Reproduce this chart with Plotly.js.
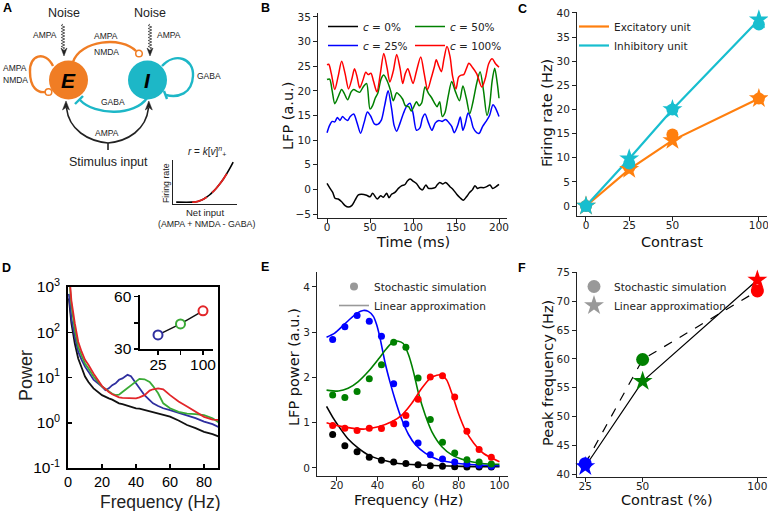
<!DOCTYPE html>
<html>
<head>
<meta charset="utf-8">
<script src="https://cdn.plot.ly/plotly-3.0.1.min.js"></script>
<style>
  body { margin: 0; background: white; }
  #fig { width: 768px; height: 511px; }
</style>
</head>
<body>
<div id="fig"></div>
<script>
// ---- panel B: LFP traces (time in ms, LFP in a.u.)
const lfpRedT = [0, 2, 5, 9, 13, 17, 21, 25, 29, 32, 35, 38, 42, 45, 48, 51, 54, 58, 62, 66, 70, 73, 77, 81, 85, 88, 91, 94, 97, 100, 104, 109, 113, 117, 121, 125, 127, 130, 133, 136, 139.5, 143, 146, 150, 153, 156, 159, 162, 165, 169, 174, 180, 184, 188, 192, 196, 200];
const lfpRed = [25.3, 25.4, 23.5, 20.3, 23.0, 26.0, 23.5, 20.4, 22.5, 24.5, 22.8, 20.6, 22.3, 23.8, 23.3, 23.6, 22.0, 19.8, 23.5, 27.6, 24.5, 21.8, 24.0, 27.4, 24.5, 21.5, 23.5, 24.5, 23.0, 21.5, 24.0, 26.9, 23.5, 20.3, 22.5, 25.0, 26.3, 25.0, 23.9, 26.5, 29.0, 27.0, 23.0, 20.4, 22.8, 23.2, 23.3, 24.5, 25.6, 24.8, 23.5, 20.8, 22.5, 25.5, 26.5, 25.5, 24.8];
const lfpGreenT = [0, 3, 6, 9, 13, 17, 20, 24, 28, 31, 35, 38, 42, 46, 50, 53, 56, 59, 63, 66, 70, 74, 77, 81, 84, 88, 91, 95, 98, 101, 104, 107, 110, 114, 118, 122, 125, 128, 131, 134, 137, 141, 145, 149, 154, 158, 162, 166, 170, 174, 178, 182, 186, 189, 192, 195, 198, 200];
const lfpGreen = [22.3, 22.4, 20.0, 17.4, 18.8, 20.3, 19.5, 18.2, 19.8, 20.3, 19.9, 19.7, 20.8, 21.5, 16.3, 17.0, 18.5, 19.5, 22.5, 23.2, 22.0, 20.0, 18.0, 19.6, 19.2, 18.3, 17.0, 16.8, 15.9, 16.8, 17.8, 17.0, 17.5, 20.8, 19.5, 18.5, 17.5, 16.8, 17.8, 14.8, 15.5, 19.0, 21.9, 20.0, 18.0, 21.0, 18.5, 15.4, 18.0, 21.5, 23.9, 20.0, 15.0, 17.0, 22.0, 24.6, 21.5, 18.5];
const lfpBlueT = [0, 3, 6, 9, 12, 15, 18, 21, 24, 27, 31, 35, 39, 43, 47, 51, 55, 59, 63, 67, 71, 75, 78, 81, 85, 89, 93, 96.5, 100, 104, 108, 111, 114, 118, 122, 126, 130, 134, 138, 142, 145, 148, 152, 155, 158, 161, 164, 167, 170, 174, 177, 181, 185, 189, 193, 196, 200];
const lfpBlue = [11.5, 13.0, 13.8, 13.7, 14.6, 14.0, 14.8, 14.3, 14.0, 14.8, 15.3, 13.5, 11.4, 13.5, 15.7, 14.8, 13.3, 13.2, 14.0, 17.0, 20.0, 16.5, 13.0, 11.8, 13.5, 15.5, 17.0, 17.5, 15.5, 12.0, 12.5, 14.5, 15.3, 13.5, 12.0, 13.5, 14.0, 13.8, 14.2, 13.5, 12.8, 11.5, 13.0, 14.7, 12.0, 13.5, 15.5, 14.5, 12.5, 11.5, 11.4, 12.8, 13.8, 15.0, 17.2, 16.5, 14.8];
const lfpBlackT = [0, 3.5, 6.6, 9.3, 13, 17, 21, 24.8, 28.7, 32.6, 36.4, 40.3, 46, 50, 53, 58.5, 62.4, 65.5, 69.4, 72, 75, 79, 83, 87, 90.7, 93.4, 96.5, 100, 104, 108, 111, 115, 118, 121.7, 125.6, 128, 131, 134.5, 138, 143, 147, 150.8, 154.7, 158.5, 162, 166, 169, 172, 175, 178, 182, 185.7, 189.5, 192.6, 196.5, 200];
const lfpBlack = [1.2, 0.2, -0.6, -1.8, -1.95, -2.5, -3.3, -3.6, -3.3, -2.2, -1.1, -1.0, -1.2, -1.5, -0.8, -1.95, -1.3, -1.6, -0.8, -1.7, -1.0, -0.6, 0.2, 0.75, 1.0, 1.7, 2.1, 1.7, 1.2, 0.2, -0.1, 0.9, 0.2, 0.2, 0.35, 0.9, 1.4, 1.1, 1.4, 0.55, -0.1, -1.0, -1.7, -2.2, -1.55, -0.6, -0.1, 0.75, 0.2, 0.4, 0.35, 0.55, 0.9, 0.2, 0.55, 1.0];

// ---- panel C: firing rate vs contrast
const contrastC = [0, 25, 50, 100];
const excSim = [0, 8.0, 14.8, 22.3];
const excLin = [0, 7.6, 13.6, 22.3];
const inhSim = [0, 8.8, 20.0, 37.6];
const inhLin = [0, 9.8, 20.0, 38.6];

// ---- panel D: power spectra (log10 of power) and inset peak frequency
const specFreq = [0.5, 2, 4, 6, 8, 10, 12, 15, 20, 22, 24, 26, 28, 30, 32, 35, 37, 40, 42, 45, 48, 50, 53, 56, 60, 65, 70, 75, 80, 85, 89];
const specLogBlack = [2.75, 2.2, 1.75, 1.42, 1.22, 1.02, 0.9, 0.76, 0.61, 0.57, 0.54, 0.51, 0.47, 0.43, 0.41, 0.37, 0.35, 0.32, 0.31, 0.28, 0.24, 0.22, 0.19, 0.17, 0.135, 0.05, -0.05, -0.12, -0.2, -0.25, -0.31];
const specLogBlue = [2.85, 2.3, 1.9, 1.57, 1.39, 1.24, 1.13, 0.95, 0.8, 0.72, 0.76, 0.83, 0.87, 0.95, 0.98, 1.06, 1.03, 0.87, 0.76, 0.61, 0.5, 0.43, 0.37, 0.32, 0.28, 0.22, 0.17, 0.1, 0.025, -0.03, -0.1];
const specLogGreen = [3.3, 2.6, 2.05, 1.68, 1.48, 1.31, 1.2, 1.02, 0.8, 0.74, 0.69, 0.64, 0.61, 0.62, 0.68, 0.77, 0.83, 0.93, 0.97, 0.96, 0.9, 0.81, 0.65, 0.43, 0.32, 0.24, 0.2, 0.19, 0.17, 0.1, 0.0];
const specLogRed = [3.4, 2.7, 2.2, 1.79, 1.57, 1.39, 1.28, 1.09, 0.81, 0.74, 0.68, 0.63, 0.59, 0.56, 0.55, 0.54, 0.54, 0.54, 0.56, 0.61, 0.71, 0.74, 0.76, 0.74, 0.61, 0.47, 0.36, 0.24, 0.13, 0.07, 0.06];
const insetContrast = [25, 50, 100];
const insetPeak = [38.1, 44.4, 51.9];

// ---- panel E: LFP power spectra, simulation dots and linear approximation
const dotFreq = [18, 24, 30, 36, 42, 48, 54, 60, 66, 72, 78, 84, 90, 96];
const dotBlack = [0.74, 0.49, 0.36, 0.24, 0.17, 0.13, 0.10, 0.07, 0.05, 0.04, 0.03, 0.02, 0.02, 0.02];
const dotBlue = [2.84, 3.12, 3.37, 3.24, 2.91, 1.86, 0.97, 0.55, 0.29, 0.20, 0.13, 0.09, 0.06, 0.04];
const dotGreen = [1.61, 1.56, 1.69, 1.97, 2.28, 2.78, 2.67, 1.99, 1.07, 0.57, 0.33, 0.18, 0.13, 0.09];
const dotRed = [0.94, 0.88, 0.83, 0.88, 0.87, 0.98, 1.16, 1.52, 2.01, 2.04, 1.57, 0.81, 0.41, 0.24];
const linBlackF = [15, 18.3, 21.6, 25.6, 30.6, 35.5, 42.1, 50.3, 61.8, 74.9, 88, 100];
const linBlack = [1.36, 1.1, 0.88, 0.64, 0.44, 0.29, 0.18, 0.1, 0.066, 0.044, 0.03, 0.03];
const linBlueF = [15, 19, 22, 26, 30, 33, 35.5, 38, 39.6, 41.3, 43.8, 46.3, 48.7, 52, 55.3, 58.6, 63.5, 70, 78, 88, 100];
const linBlue = [2.89, 2.98, 3.1, 3.27, 3.42, 3.48, 3.46, 3.35, 3.17, 2.87, 2.32, 1.88, 1.51, 1.07, 0.74, 0.52, 0.33, 0.18, 0.11, 0.07, 0.05];
const linGreenF = [15, 20.8, 25.6, 30.6, 35.5, 40.4, 44.5, 47.8, 50.3, 52.7, 55.3, 57.7, 60.2, 63.5, 66.8, 71.7, 76.6, 83.2, 91.4, 100];
const linGreen = [1.72, 1.70, 1.76, 1.91, 2.13, 2.40, 2.64, 2.79, 2.8, 2.75, 2.5, 2.13, 1.65, 1.17, 0.8, 0.47, 0.29, 0.17, 0.1, 0.08];
const linRedF = [15, 20.8, 27.3, 33.9, 40.4, 47, 52, 56.9, 61.8, 65.9, 69.2, 71.7, 74.1, 76.6, 79.9, 83.2, 87.3, 92.2, 100];
const linRed = [1.0, 0.93, 0.88, 0.86, 0.91, 1.02, 1.17, 1.43, 1.76, 1.98, 2.05, 2.05, 1.94, 1.65, 1.2, 0.84, 0.55, 0.32, 0.14];

// ---- panel F: peak frequency vs contrast
const contrastF = [25, 50, 100];
const peakSim = [41.8, 59.9, 71.8];
const peakLin = [41.3, 56.1, 73.7];
const peakColors = ["blue", "green", "red"];

// ---- panel A inset: rectified power-law transfer curve
const netInput = [0.05, 0.3, 0.36, 0.42, 0.48, 0.53, 0.57, 0.61, 0.67, 0.73, 0.79, 0.84, 0.89, 0.94];
const firingRate = [0.045, 0.045, 0.053, 0.079, 0.12, 0.168, 0.215, 0.27, 0.364, 0.476, 0.604, 0.724, 0.856, 1.0];

const W = 768, H = 511;
const px = (x) => x / W;
const py = (y) => 1 - y / H;
function dom(l, r, t, b) {
  return { x: [px(l), px(r)], y: [py(b), py(t)] };
}
// pixel path -> paper path
function path(s) {
  return s.replace(/(-?[\d.]+),(-?[\d.]+)/g, (m, a, b) => px(+a).toFixed(5) + "," + py(+b).toFixed(5));
}
function wiggle(x, y0, y1) {
  let s = "M" + x + "," + y0;
  let k = 0;
  for (let y = y0 + 1.5; y < y1; y += 1.5) {
    s += " L" + (x + (k % 2 ? 1.8 : -1.8)) + "," + y;
    k++;
  }
  return s + " L" + x + "," + y1;
}

const mplFont = { family: "DejaVu Sans", size: 10.5, color: "#222" };
const arial = "Liberation Sans, Arial, sans-serif";
const ORANGE = "#f07d24";
const CYAN = "#1db7c7";
const TAB_OR = "#ff7f0e";
const TAB_CY = "#17becf";

function mplAxis(extra) {
  return Object.assign({
    showline: true, linecolor: "#222", linewidth: 1,
    ticks: "outside", ticklen: 4, tickwidth: 1, tickcolor: "#222",
    showgrid: false, zeroline: false, tickfont: mplFont, fixedrange: true,
    ticklabeloverflow: "allow",
  }, extra);
}

const dB = dom(318, 507, 13, 218);
const dC = dom(577, 767, 12, 216);
const dD = dom(68, 218, 287, 468);
const dDi = dom(140, 213, 295, 349);
const dE = dom(317, 508, 272, 476);
const dF = dom(577, 767, 272, 477);
const dA = dom(173, 237, 160, 204);

const traces = [];
// B
const bSets = [
  [lfpBlackT, lfpBlack, "black", "<i>c</i> = 0%", "legend"],
  [lfpBlueT, lfpBlue, "blue", "<i>c</i> = 25%", "legend"],
  [lfpGreenT, lfpGreen, "green", "<i>c</i> = 50%", "legend2"],
  [lfpRedT, lfpRed, "red", "<i>c</i> = 100%", "legend2"],
];
bSets.forEach(([t, v, c, n, lg]) => {
  traces.push({
    x: t, y: v, type: "scatter", mode: "lines", name: n, legend: lg,
    line: { color: c, width: 1.5, shape: "spline", smoothing: 0.8 },
    xaxis: "x", yaxis: "y",
  });
});
// C
traces.push({ x: contrastC, y: excLin, mode: "lines", name: "Excitatory unit", legend: "legend3",
  line: { color: TAB_OR, width: 2.2 }, xaxis: "x2", yaxis: "y2" });
traces.push({ x: contrastC, y: inhLin, mode: "lines", name: "Inhibitory unit", legend: "legend3",
  line: { color: TAB_CY, width: 2.2 }, xaxis: "x2", yaxis: "y2" });
[[excLin, TAB_OR, "star", 15], [excSim, TAB_OR, "circle", 12], [inhLin, TAB_CY, "star", 15], [inhSim, TAB_CY, "circle", 12]].forEach(([v, c, s, z]) => {
  traces.push({ x: contrastC, y: v, mode: "markers", showlegend: false, cliponaxis: false,
    marker: { color: c, symbol: s, size: z, line: { width: 0 } }, xaxis: "x2", yaxis: "y2" });
});
// D
[[specLogBlack, "#111"], [specLogBlue, "#2f2f9f"], [specLogGreen, "#3aaa36"], [specLogRed, "#e2262a"]].forEach(([v, c]) => {
  traces.push({ x: specFreq, y: v.map((l) => Math.pow(10, l)), mode: "lines", showlegend: false,
    line: { color: c, width: 1.8 }, xaxis: "x3", yaxis: "y3" });
});
traces.push({ x: insetContrast, y: insetPeak, mode: "lines+markers", showlegend: false, cliponaxis: false,
  line: { color: "#111", width: 1.5 },
  marker: { size: 9, color: "white", line: { color: ["#2f2f9f", "#3aaa36", "#e2262a"], width: 2 } },
  xaxis: "x4", yaxis: "y4" });
// E
[[linBlackF, linBlack, "black"], [linBlueF, linBlue, "blue"], [linGreenF, linGreen, "green"], [linRedF, linRed, "red"]].forEach(([f, v, c]) => {
  traces.push({ x: f, y: v, mode: "lines", showlegend: false,
    line: { color: c, width: 1.6, shape: "spline", smoothing: 0.7 }, xaxis: "x5", yaxis: "y5" });
});
[[dotBlack, "black"], [dotBlue, "blue"], [dotGreen, "green"], [dotRed, "red"]].forEach(([v, c]) => {
  traces.push({ x: dotFreq, y: v, mode: "markers", showlegend: false, cliponaxis: false,
    marker: { color: c, size: 7 }, xaxis: "x5", yaxis: "y5" });
});
traces.push({ x: [null], y: [null], mode: "markers", name: "Stochastic simulation", legend: "legend4",
  marker: { color: "#999", size: 8 }, xaxis: "x5", yaxis: "y5" });
traces.push({ x: [null], y: [null], mode: "lines", name: "Linear approximation", legend: "legend4",
  line: { color: "#999", width: 1.6 }, xaxis: "x5", yaxis: "y5" });
// F
traces.push({ x: contrastF, y: peakSim, mode: "lines", showlegend: false,
  line: { color: "black", width: 1.2, dash: "dash" }, xaxis: "x6", yaxis: "y6" });
traces.push({ x: contrastF, y: peakLin, mode: "lines", showlegend: false,
  line: { color: "black", width: 1.2 }, xaxis: "x6", yaxis: "y6" });
traces.push({ x: contrastF, y: peakSim, mode: "markers", showlegend: false, cliponaxis: false,
  marker: { color: peakColors, size: 13 }, xaxis: "x6", yaxis: "y6" });
traces.push({ x: contrastF, y: peakLin, mode: "markers", showlegend: false, cliponaxis: false,
  marker: { color: peakColors, size: 15, symbol: "star" }, xaxis: "x6", yaxis: "y6" });
traces.push({ x: [null], y: [null], mode: "markers", name: "Stochastic simulation", legend: "legend5",
  marker: { color: "#999", size: 13 }, xaxis: "x6", yaxis: "y6" });
traces.push({ x: [null], y: [null], mode: "markers", name: "Linear approximation", legend: "legend5",
  marker: { color: "#999", size: 15, symbol: "star" }, xaxis: "x6", yaxis: "y6" });
// A inset curve, with red highlighted stretches
traces.push({ x: netInput, y: firingRate, mode: "lines", showlegend: false,
  line: { color: "black", width: 1.6, shape: "spline" }, xaxis: "x7", yaxis: "y7" });
traces.push({ x: netInput.slice(1, 6), y: firingRate.slice(1, 6), mode: "lines", showlegend: false,
  line: { color: "#e8221f", width: 1.8, shape: "spline" }, xaxis: "x7", yaxis: "y7" });
traces.push({ x: netInput.slice(7, 12), y: firingRate.slice(7, 12), mode: "lines", showlegend: false,
  line: { color: "#e8221f", width: 1.8, shape: "spline" }, xaxis: "x7", yaxis: "y7" });

const legendBase = {
  font: mplFont, bgcolor: "rgba(0,0,0,0)", xanchor: "left", yanchor: "top",
  tracegroupgap: 0, orientation: "v",
};

// ---- panel A diagram
const shapes = [];
const ln = (p, c, w, extra) => shapes.push(Object.assign({ type: "path", xref: "paper", yref: "paper", path: path(p), line: { color: c, width: w } }, extra || {}));
const circ = (cx, cy, r, fill, lc, lw) => shapes.push({ type: "circle", xref: "paper", yref: "paper",
  x0: px(cx - r), x1: px(cx + r), y0: py(cy + r), y1: py(cy - r), fillcolor: fill, line: { color: lc, width: lw } });

ln("M73,62 C80,40 122,36 136,51", ORANGE, 2.4);
ln("M53,66 C45,50 29,55 30,72 C30,88 38,93 45,92", ORANGE, 2.4);
ln("M162,66 C175,52 194,58 193,76 C192,94 178,98 166,95", CYAN, 2.4);
ln("M147,98 C135,116 95,116 80,100", CYAN, 2.4);
ln("M75,104 L83,96", CYAN, 2.4);
ln("M164,91 L167,99", CYAN, 2.4);
circ(68.5, 80, 19.5, ORANGE, ORANGE, 0);
circ(147.5, 80, 19.5, CYAN, CYAN, 0);
circ(139, 53.5, 3.3, "white", ORANGE, 1.5);
circ(48.5, 92, 3.3, "white", ORANGE, 1.5);
ln(wiggle(63, 24, 49), "#333", 0.8);
ln(wiggle(150, 24, 49), "#333", 0.8);
ln("M64,56 L61,48 L64,50.5 L67,48 Z", "#222", 0.5, { fillcolor: "#222" });
ln("M150,56 L147,48 L150,50.5 L153,48 Z", "#222", 0.5, { fillcolor: "#222" });
ln("M108,143 C88,141 69,130 66.5,108", "#222", 1.6);
ln("M108,143 C128,141 146,130 148.5,108", "#222", 1.6);
ln("M108,143 L108,150", "#222", 1.6);
ln("M66,101 L62.5,110 L66,107.5 L69.5,110 Z", "#222", 0.5, { fillcolor: "#222" });
ln("M148.8,101 L145.3,110 L148.8,107.5 L152.3,110 Z", "#222", 0.5, { fillcolor: "#222" });

const annotations = [];
const txt = (x, y, text, size, extra) => annotations.push(Object.assign({
  xref: "paper", yref: "paper", x: px(x), y: py(y), text: text, showarrow: false,
  xanchor: "center", yanchor: "middle", font: { family: arial, size: size, color: "#222" },
}, extra || {}));
const mtxt = (x, y, text, size, extra) => txt(x, y, text, size, Object.assign({ font: { family: "DejaVu Sans", size: size, color: "#111" } }, extra || {}));
const letterFont = { family: arial, size: 12.5, color: "black" };

// panel letters
txt(7, 8, "<b>A</b>", 12.5, { font: letterFont });
txt(265, 8, "<b>B</b>", 12.5, { font: letterFont });
txt(522, 9, "<b>C</b>", 12.5, { font: letterFont });
txt(6, 268, "<b>D</b>", 12.5, { font: letterFont });
txt(265, 267, "<b>E</b>", 12.5, { font: letterFont });
txt(522, 268, "<b>F</b>", 12.5, { font: letterFont });

// diagram text
txt(64, 13, "Noise", 12.5);
txt(150, 13, "Noise", 12.5);
txt(45, 35, "AMPA", 8.5);
txt(169, 35, "AMPA", 8.5);
txt(106, 36, "AMPA", 8.5);
txt(106, 52, "NMDA", 8.5);
txt(15, 68, "AMPA", 8.5);
txt(15, 80, "NMDA", 8.5);
txt(209, 76, "GABA", 8.5);
txt(113, 102, "GABA", 8.5);
txt(107, 133, "AMPA", 8.5);
txt(108, 162, "Stimulus input", 12.5);
txt(68.5, 81, "<b><i>E</i></b>", 21, { font: { family: arial, size: 21, color: "black" } });
txt(147.5, 81, "<b><i>I</i></b>", 21, { font: { family: arial, size: 21, color: "black" } });
txt(207, 151, "<i>r</i> = <i>k</i>[<i>v</i>]<sup><i>n</i></sup><sub>+</sub>", 10);
txt(166, 183, "Firing rate", 8.8, { textangle: -90 });
txt(205, 213, "Net input", 9.5);
txt(206, 224, "(AMPA + NMDA - GABA)", 8.8);

// axis titles
mtxt(288, 116, "LFP (a.u.)", 14.5, { textangle: -90 });
mtxt(413, 242, "Time (ms)", 14.5);
mtxt(547, 113, "Firing rate (Hz)", 14.5, { textangle: -90 });
mtxt(672, 242, "Contrast", 14.5);
txt(26, 376, "Power", 18, { textangle: -90 });
txt(160, 502, "Frequency (Hz)", 17.5);
mtxt(294, 367, "LFP power (a.u.)", 14.5, { textangle: -90 });
mtxt(408, 500, "Frequency (Hz)", 14.5);
mtxt(548, 373, "Peak frequency (Hz)", 14.5, { textangle: -90 });
mtxt(667, 500, "Contrast (%)", 14.5);

const boxAxis = {
  showline: true, mirror: true, linecolor: "black", linewidth: 1.8,
  ticks: "inside", ticklen: 4, tickwidth: 1.5, tickcolor: "black",
  showgrid: false, zeroline: false, fixedrange: true, ticklabeloverflow: "allow",
  tickfont: { family: arial, size: 14.5, color: "black" },
};
const insetAxis = {
  showline: true, linecolor: "black", linewidth: 1.6,
  ticks: "outside", ticklen: 4, tickwidth: 1.5, tickcolor: "black",
  showgrid: false, zeroline: false, fixedrange: true, ticklabeloverflow: "allow",
  tickfont: { family: arial, size: 15.5, color: "black" },
};

const layout = {
  width: W, height: H,
  margin: { l: 0, r: 0, t: 0, b: 0 },
  paper_bgcolor: "white", plot_bgcolor: "rgba(0,0,0,0)",
  showlegend: true,
  xaxis: mplAxis({ domain: dB.x, anchor: "y", range: [-10.5, 209.3], tickvals: [0, 50, 100, 150, 200], ticklabelstandoff: -5 }),
  yaxis: mplAxis({ domain: dB.y, anchor: "x", range: [-5.81, 35.81], tickvals: [-5, 0, 5, 10, 15, 20, 25, 30, 35] }),
  xaxis2: mplAxis({ domain: dC.x, anchor: "y2", range: [-5.2, 104.7], tickvals: [0, 25, 50, 100], ticklabelstandoff: -5 }),
  yaxis2: mplAxis({ domain: dC.y, anchor: "x2", range: [-2.07, 40.2], tickvals: [0, 5, 10, 15, 20, 25, 30, 35, 40] }),
  xaxis3: Object.assign({}, boxAxis, { domain: dD.x, anchor: "y3", range: [0, 88.2], tickvals: [0, 20, 40, 60, 80], ticklabelstandoff: 0 }),
  yaxis3: Object.assign({}, boxAxis, { domain: dD.y, anchor: "x3", type: "log", range: [-1, 3], ticklabelstandoff: 3,
    tickfont: { family: arial, size: 15.5, color: "black" },
    tickvals: [0.1, 1, 10, 100, 1000], ticktext: ["10<sup>-1</sup>", "10<sup>0</sup>", "10<sup>1</sup>", "10<sup>2</sup>", "10<sup>3</sup>"] }),
  xaxis4: Object.assign({}, insetAxis, { domain: dDi.x, anchor: "y4", type: "log", range: [1.157, 2.134],
    tickvals: [25, 50, 100], ticktext: ["25", " ", "100"], ticklabelstandoff: -3 }),
  yaxis4: Object.assign({}, insetAxis, { domain: dDi.y, anchor: "x4", range: [30, 61],
    tickvals: [30, 45, 60], ticktext: ["30", " ", "60"] }),
  xaxis5: mplAxis({ domain: dE.x, anchor: "y5", range: [10.3, 104.2], tickvals: [20, 40, 60, 80, 100], ticklabelstandoff: -5 }),
  yaxis5: mplAxis({ domain: dE.y, anchor: "x5", range: [-0.177, 4.33], tickvals: [0, 1, 2, 3, 4] }),
  xaxis6: mplAxis({ domain: dF.x, anchor: "y6", range: [21.4, 104.2], tickvals: [25, 50, 100], ticklabelstandoff: -5 }),
  yaxis6: mplAxis({ domain: dF.y, anchor: "x6", range: [39.48, 75.1], tickvals: [40, 45, 50, 55, 60, 65, 70, 75] }),
  xaxis7: { domain: dA.x, anchor: "y7", range: [0, 1], showline: true, linecolor: "#222", linewidth: 1.2,
    showticklabels: false, ticks: "", showgrid: false, zeroline: false, fixedrange: true },
  yaxis7: { domain: dA.y, anchor: "x7", range: [0, 1.05], showline: true, linecolor: "#222", linewidth: 1.2,
    showticklabels: false, ticks: "", showgrid: false, zeroline: false, fixedrange: true },
  legend: Object.assign({}, legendBase, { x: px(323), y: py(12) }),
  legend2: Object.assign({}, legendBase, { x: px(410), y: py(12) }),
  legend3: Object.assign({}, legendBase, { x: px(574), y: py(12) }),
  legend4: Object.assign({}, legendBase, { x: px(334), y: py(272) }),
  legend5: Object.assign({}, legendBase, { x: px(574), y: py(272) }),
  shapes: shapes,
  annotations: annotations,
};

Plotly.newPlot("fig", traces, layout, { staticPlot: true, displayModeBar: false });
</script>
</body>
</html>
